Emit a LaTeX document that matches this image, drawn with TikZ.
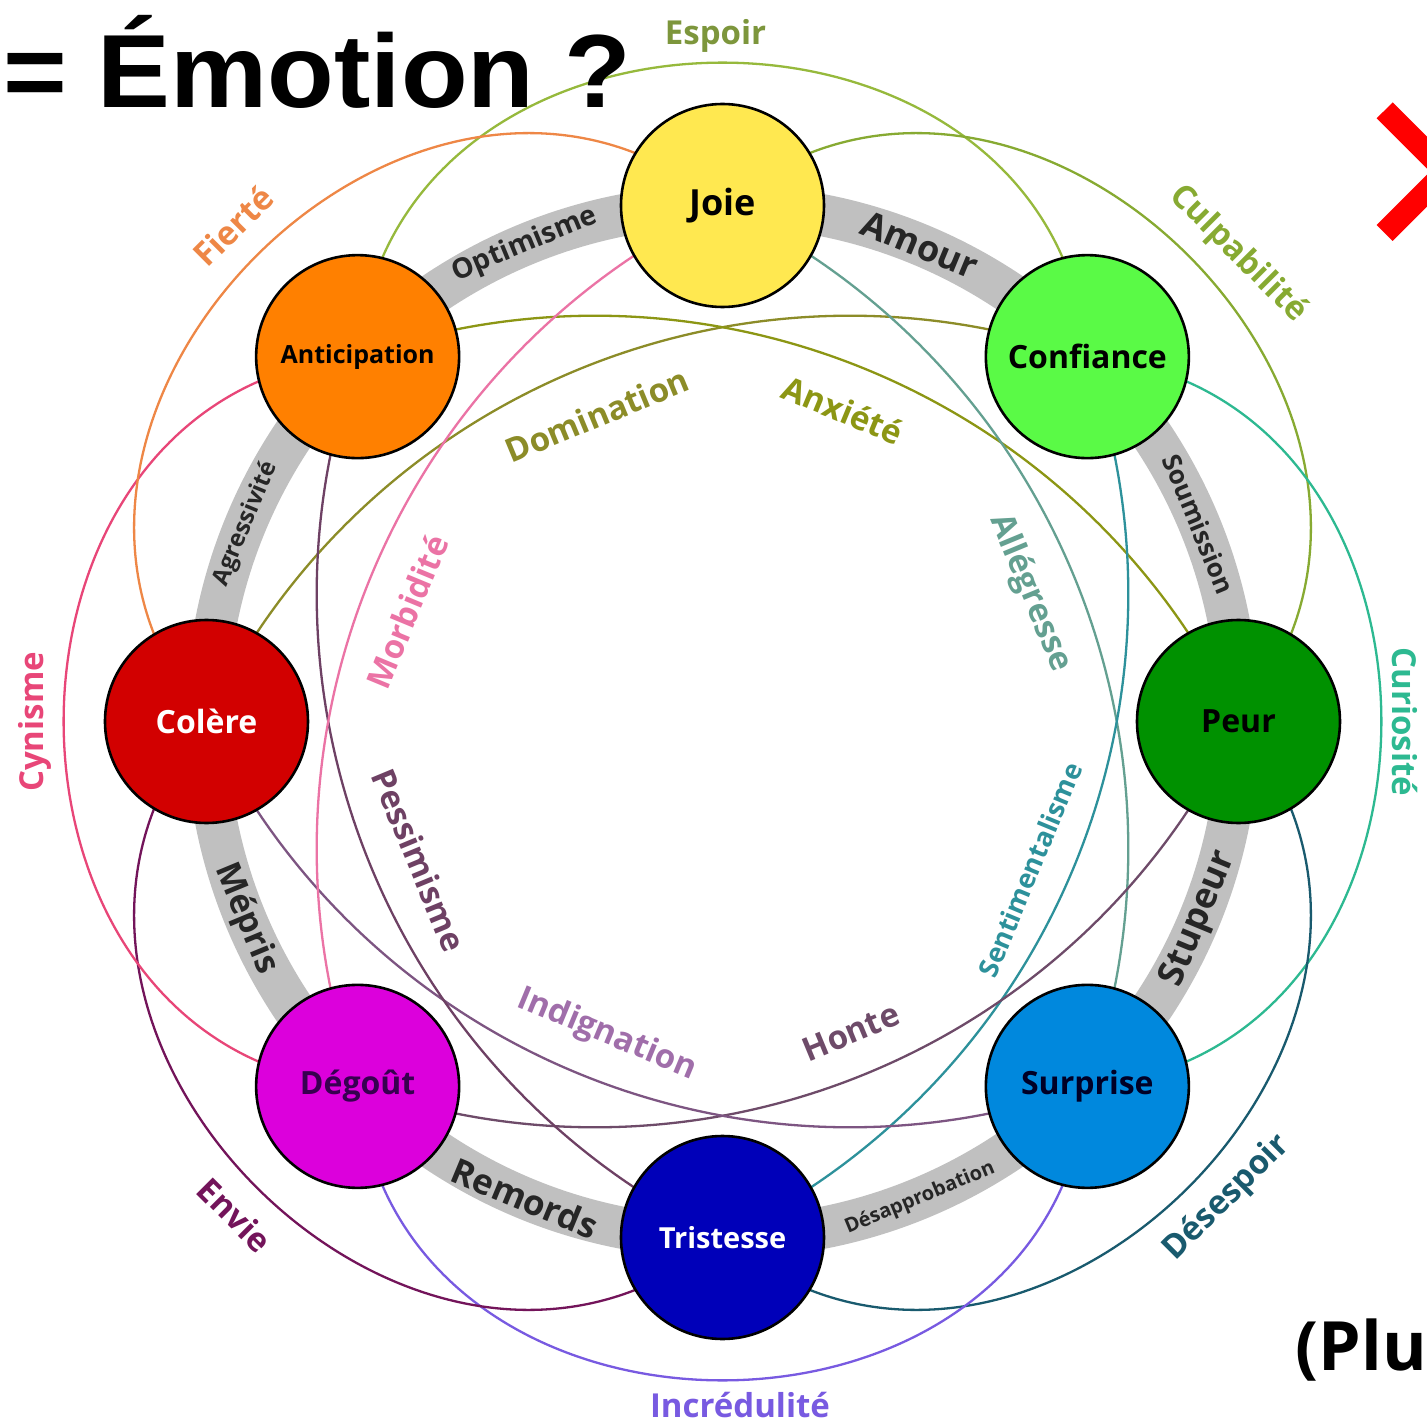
\documentclass[tikz,border=0pt]{standalone}
\usepackage{graphicx}
\usepackage{fontspec}
\setmainfont{Open Sans}
\newfontfamily\titlefont{Liberation Sans}
\definecolor{joieC}{RGB}{255,232,80}
\definecolor{confC}{RGB}{90,250,70}
\definecolor{peurC}{RGB}{0,145,0}
\definecolor{surpC}{RGB}{0,136,221}
\definecolor{tristC}{RGB}{0,0,185}
\definecolor{degC}{RGB}{220,0,220}
\definecolor{colC}{RGB}{210,0,0}
\definecolor{antC}{RGB}{255,128,0}
\definecolor{bandC}{RGB}{192,192,192}
\definecolor{cEsp}{RGB}{150,185,60}
\definecolor{cCul}{RGB}{135,170,50}
\definecolor{cCur}{RGB}{45,185,145}
\definecolor{cDes}{RGB}{25,90,110}
\definecolor{cInc}{RGB}{120,90,225}
\definecolor{cEnv}{RGB}{115,20,90}
\definecolor{cCyn}{RGB}{232,70,120}
\definecolor{cFie}{RGB}{238,135,70}
\definecolor{cDom}{RGB}{140,140,40}
\definecolor{cAnx}{RGB}{140,150,20}
\definecolor{cAll}{RGB}{100,160,145}
\definecolor{cSen}{RGB}{45,145,155}
\definecolor{cHon}{RGB}{110,75,105}
\definecolor{cInd}{RGB}{125,85,130}
\definecolor{cPes}{RGB}{110,65,100}
\definecolor{cMor}{RGB}{235,115,165}
\definecolor{tEsp}{RGB}{125,150,60}
\definecolor{tInd}{RGB}{160,110,170}
\definecolor{tDeg}{RGB}{55,0,80}
\definecolor{chevC}{RGB}{255,0,0}
\pgfdeclarelayer{bg}
\pgfsetlayers{bg,main}
\begin{document}
\begin{tikzpicture}[x=1pt,y=1pt,
  arcline/.style={line width=2.3pt},
  emo/.style={circle,draw=black,line width=2.6pt,minimum size=203pt,inner sep=0pt,font=\bfseries\fontsize{32}{32}\selectfont},
  dyad/.style={inner sep=0pt,font=\bfseries\fontsize{33}{33}\selectfont},
  bandlbl/.style={inner sep=0pt,text=black!85}]
\useasboundingbox (-722.5,-703.5) rectangle (704.5,721.5);
\clip (-722.5,-703.5) rectangle (704.5,721.5);

% emotion circles
\node[emo,fill=joieC,text=black,font=\bfseries\fontsize{36}{36}\selectfont] (joie) at (90:516) {Joie};
\node[emo,fill=confC,text=black] (conf) at (45:516) {Confiance};
\node[emo,fill=peurC,text=black] (peur) at (0:516) {Peur};
\node[emo,fill=surpC,text={black!85!blue}] (surp) at (-45:516) {Surprise};
\node[emo,fill=tristC,text=white,font=\bfseries\fontsize{29}{29}\selectfont] (trist) at (-90:516) {Tristesse};
\node[emo,fill=degC,text=tDeg] (deg) at (-135:516) {Dégoût};
\node[emo,fill=colC,text=white] (col) at (180:516) {Colère};
\node[emo,fill=antC,text=black,font=\bfseries\fontsize{25}{25}\selectfont] (ant) at (135:516) {Anticipation};

\begin{pgfonlayer}{bg}
  \fill[white] (-722.5,-703.5) rectangle (704.5,721.5);
  \draw[bandC,line width=42pt] (0,0) circle[radius=516];
  % tertiary dyads (outer)
  \foreach \t/\a/\b/\c in {90/ant/conf/cEsp,45/joie/peur/cCul,0/conf/surp/cCur,-45/peur/trist/cDes,-90/surp/deg/cInc,-135/trist/col/cEnv,180/deg/ant/cCyn,135/col/joie/cFie}
    \draw[arcline,draw=\c] (\a.center) .. controls +(\t-5:393.5) and +(\t+5:393.5) .. (\b.center);
  % secondary dyads (inner)
  \foreach \t/\a/\b/\c in {112.5/col/conf/cDom,67.5/ant/peur/cAnx,22.5/joie/surp/cAll,-22.5/conf/trist/cSen,-67.5/peur/deg/cHon,-112.5/surp/col/cInd,-157.5/trist/ant/cPes,157.5/deg/joie/cMor}
    \draw[arcline,draw=\c] (\a.center) .. controls +(\t-48:364.4) and +(\t+48:364.4) .. (\b.center);
\end{pgfonlayer}

% primary dyads on the band
\node[bandlbl,rotate=22.5,font=\bfseries\fontsize{28}{28}\selectfont] (optim) at (112.5:516) {Optimisme};
\node[bandlbl,rotate=-22.5,font=\bfseries\fontsize{36}{36}\selectfont] (amour) at (67.5:516) {Amour};
\node[bandlbl,rotate=-67.5,font=\bfseries\fontsize{26}{26}\selectfont] (soum) at (22.5:516) {Soumission};
\node[bandlbl,rotate=67.5,font=\bfseries\fontsize{36}{36}\selectfont] (stup) at (-22.5:516) {Stupeur};
\node[bandlbl,rotate=22.5,font=\bfseries\fontsize{20}{20}\selectfont] (desap) at (-67.5:516) {Désapprobation};
\node[bandlbl,rotate=-22.5,font=\bfseries\fontsize{35}{35}\selectfont] (remo) at (-112.5:516) {Remords};
\node[bandlbl,rotate=-67.5,font=\bfseries\fontsize{34}{34}\selectfont] (mepr) at (-157.5:516) {Mépris};
\node[bandlbl,rotate=67.5,font=\bfseries\fontsize{24}{24}\selectfont] (agre) at (157.5:516) {Agressivité};

% outer labels
\node[dyad,text=tEsp] (lEsp) at (-7,686) {Espoir};
\node[dyad,text=cCul,rotate=-45] (lCul) at (515.5,467.5) {Culpabilité};
\node[dyad,text=cCur,rotate=-90] (lCur) at (682.5,-0.5) {Curiosité};
\node[dyad,text=cDes,rotate=45] (lDes) at (504.5,-476.5) {Désespoir};
\node[dyad,text=cInc] (lInc) at (17.5,-683.5) {Incrédulité};
\node[dyad,text=cEnv,rotate=-45] (lEnv) at (-487.5,-493.5) {Envie};
\node[dyad,text=cCyn,rotate=90] (lCyn) at (-687.5,-0.5) {Cynisme};
\node[dyad,text=cFie,rotate=45] (lFie) at (-489.5,495.5) {Fierté};

% inner labels
\node[dyad,text=cDom,rotate=22.5] (lDom) at (-125.5,306.5) {Domination};
\node[dyad,text=cAnx,rotate=-22.5] (lAnx) at (120.5,311.5) {Anxiété};
\node[dyad,text=cAll,rotate=-67.5] (lAll) at (307.5,128.5) {Allégresse};
\node[dyad,text=cSen,rotate=67.5,font=\bfseries\fontsize{27}{27}\selectfont] (lSen) at (307.5,-148.5) {Sentimentalisme};
\node[dyad,text=cHon,rotate=22.5] (lHon) at (128.5,-310.5) {Honte};
\node[dyad,text=tInd,rotate=-22.5] (lInd) at (-115.5,-313.5) {Indignation};
\node[dyad,text=cPes,rotate=-67.5] (lPes) at (-303.5,-138.5) {Pessimisme};
\node[dyad,text=cMor,rotate=67.5] (lMor) at (-315.5,109.5) {Morbidité};

% slide elements
\node[anchor=base west,inner sep=0pt,font=\titlefont\bfseries\fontsize{104}{104}\selectfont] (title) at (-719,613.5) {\scalebox{1.05}[1]{= Émotion ?}};
\node[anchor=base west,inner sep=0pt,font=\bfseries\fontsize{68}{68}\selectfont] (plu) at (573,-648.5) {(Plu};
\draw[chevC,line width=22.6pt,line join=miter,line cap=butt] (662.2,611.2) -- (723.5,549.8) -- (662.2,488.5);
\end{tikzpicture}
\end{document}
